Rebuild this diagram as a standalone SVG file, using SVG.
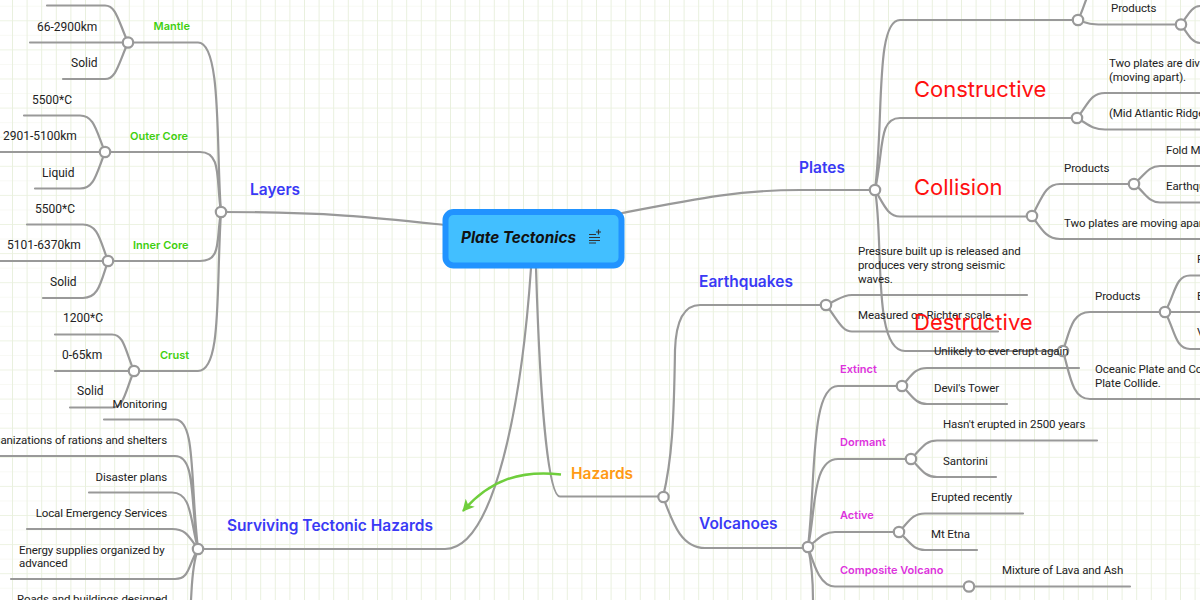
<svg xmlns="http://www.w3.org/2000/svg" width="1200" height="600" viewBox="0 0 1200 600">
<style>
text{font-family:"Roboto","Noto Sans","Liberation Sans",sans-serif;font-size:11.500px;letter-spacing:-.1px;fill:#222}
#layers text{font-size:12px;letter-spacing:0}
.l{fill:none;stroke:#999;stroke-width:2.200;stroke-linecap:round}
.n{fill:#fff;stroke:#999;stroke-width:2.200}
#layers .b,.b{fill:#3a3af5;font-family:"Inter","Noto Sans",sans-serif;font-weight:600;font-size:15.500px;letter-spacing:0}
#layers .g{fill:#3fcf0f;font-family:"Inter","Noto Sans",sans-serif;font-weight:600;font-size:11px;letter-spacing:0}
.m{fill:#dd33dd;font-family:"Inter","Noto Sans",sans-serif;font-weight:600;font-size:11px;letter-spacing:0}
.r{fill:#ff1010;font-family:"Inter","Noto Sans",sans-serif;font-size:22px;letter-spacing:0}
.e{text-anchor:end}
</style>
<defs>
<pattern id="gv" width="14.6" height="600" patternUnits="userSpaceOnUse" x="12"><path d="M.5 0V600" stroke="#e9f0de" stroke-width="1"/></pattern>
<pattern id="gh" width="1200" height="29.100" patternUnits="userSpaceOnUse" y="20.300"><path d="M0 .5H1200" stroke="#edf3e3" stroke-width="1"/><path d="M0 15H1200" stroke="#f8f9f4" stroke-width="1"/></pattern>
<marker id="ah" markerWidth="14" markerHeight="14" refX="11" refY="6" orient="auto" markerUnits="userSpaceOnUse"><path d="M0 0L12 6L0 12L3 6Z" fill="#6fce3c"/></marker>
</defs>
<rect width="1200" height="600" fill="#fff"/>
<rect width="1200" height="600" fill="url(#gh)"/>
<rect width="1200" height="600" fill="url(#gv)"/>
<g id="connectors">
<path class="l" d="M221 212C330 212 380 218 445 225"/>
<path class="l" d="M221 212C216 150 222 42.500 198 42.500H128"/>
<path class="l" d="M221 212C216 180 222 152 200 152H105"/>
<path class="l" d="M221 212C216 240 222 261 200 261H108"/>
<path class="l" d="M221 212C216 290 222 371 198 371H134"/>
<path class="l" d="M128 42.500C118 20 116 5.500 105 5.500H47M128 42.500H30M128 42.500C118 65 116 79 105 79H63"/>
<path class="l" d="M105 152C96 130 94 115.500 80 115.500H24M105 152H0M105 152C96 175 94 188.500 80 188.500H35"/>
<path class="l" d="M108 261C100 240 98 224.500 83 224.500H27M108 261H0M108 261C100 285 98 298 83 298H43"/>
<path class="l" d="M134 371C125 350 124 334.500 112 334.500H55M134 371H55M134 371C125 392 124 407.500 112 407.500H70"/>
<path class="l" d="M198 549C190 480 196 419.500 175 419.500H104M198 549C190 500 196 456 175 456H0M198 549C190 520 192 492.500 172 492.500H89M198 549C188 535 185 529 172 529H27M198 549C188 565 190 579 175 579H11M198 549C192 565 192 585 191 600"/>
<path class="l" d="M198 549H445C495 549 522 400 531 268"/>
<path class="l" d="M536 268C540 400 548 496.500 560 496.500H663"/>
<path class="l" d="M663 497C672 460 674 420 675 350C676 320 685 305 700 305H826"/>
<path class="l" d="M663 497C672 520 680 548 705 548H808"/>
<path class="l" d="M826 305C838 300 842 295 852 295H1027M826 305C838 320 842 331.500 852 331.500H998"/>
<path class="l" d="M808 547C816 480 810 386 838 386H902"/>
<path class="l" d="M808 547C816 510 812 459 838 459H911"/>
<path class="l" d="M808 547C818 540 822 532 835 532H899"/>
<path class="l" d="M808 547C814 565 820 586.500 835 586.500H969H1130"/>
<path class="l" d="M808 547C812 565 813 585 813 600"/>
<path class="l" d="M902 386C912 375 915 368 927 368H1079M902 386C912 395 915 404 927 404H1007"/>
<path class="l" d="M911 459C922 448 925 440.500 937 440.500H1097M911 459C922 470 925 477 937 477H996"/>
<path class="l" d="M899 532C910 520 913 513.500 925 513.500H1023M899 532C910 542 913 550 925 550H977"/>
<path class="l" d="M622 213C700 198 740 190 800 190H875"/>
<path class="l" d="M875 190C884 120 875 20 900 20H1078"/>
<path class="l" d="M875 190C884 150 878 118 900 118H1077"/>
<path class="l" d="M875 190C884 205 888 216.500 900 216.500H1032"/>
<path class="l" d="M875 190C884 240 872 351 905 351H1063"/>
<path class="l" d="M1078 20C1082 12 1084 5 1086 0M1078 20C1088 24 1092 24.500 1102 24.500H1181M1181 24.500C1188 15 1192 6 1200 6M1181 24.500C1188 34 1192 43 1200 43"/>
<path class="l" d="M1077 118C1088 105 1090 93 1105 93H1200M1077 118C1088 124 1092 129.500 1105 129.500H1200"/>
<path class="l" d="M1032 216C1042 198 1045 184 1060 184H1134M1032 216C1042 230 1047 239 1060 239H1200"/>
<path class="l" d="M1134 184C1145 175 1148 166 1160 166H1200M1134 184C1145 192 1148 202.500 1160 202.500H1200"/>
<path class="l" d="M1063 351C1070 330 1072 312 1090 312H1165M1063 351C1070 375 1072 399 1090 399H1200"/>
<path class="l" d="M1165 312C1175 295 1175 275.500 1190 275.500H1200M1165 312H1200M1165 312C1175 330 1175 349 1190 349H1200"/>
<path d="M561 474.500C520 470 490 480 463 511" fill="none" stroke="#6fce3c" stroke-width="2.300" marker-end="url(#ah)"/>
</g>
<g id="root"><rect x="445.500" y="212" width="176" height="53.500" rx="8" fill="#42bfff" stroke="#2193ff" stroke-width="6"/>
<text x="461" y="243" style="font-family:Inter,'Noto Sans',sans-serif;font-size:15.300px;letter-spacing:0;font-weight:700;font-style:italic;fill:#111">Plate Tectonics</text>
<path d="M589 234.500h7M589 237.500h11M589 240.500h11M589 243h7" stroke="#333" stroke-width="1.200" fill="none"/><path d="M596 232h5M598.500 229.500v5" stroke="#333" stroke-width="1.200" fill="none"/></g>
<g id="dots">
<circle class="n" cx="221" cy="212" r="5.200"/><circle class="n" cx="128" cy="42.500" r="5.200"/><circle class="n" cx="105" cy="152" r="5.200"/><circle class="n" cx="108" cy="261" r="5.200"/><circle class="n" cx="134" cy="371" r="5.200"/><circle class="n" cx="198" cy="549" r="5.200"/><circle class="n" cx="663.500" cy="497" r="5.200"/><circle class="n" cx="826" cy="305" r="5.200"/><circle class="n" cx="808" cy="547" r="5.200"/><circle class="n" cx="902" cy="386" r="5.200"/><circle class="n" cx="911" cy="459" r="5.200"/><circle class="n" cx="899" cy="532" r="5.200"/><circle class="n" cx="969" cy="586.500" r="5.200"/><circle class="n" cx="875" cy="190" r="5.200"/><circle class="n" cx="1078" cy="20" r="5.200"/><circle class="n" cx="1181" cy="24.500" r="5.200"/><circle class="n" cx="1077" cy="118" r="5.200"/><circle class="n" cx="1032" cy="216" r="5.200"/><circle class="n" cx="1134" cy="184" r="5.200"/><circle class="n" cx="1063" cy="351" r="5.200"/><circle class="n" cx="1165" cy="312" r="5.200"/>
</g>
<g id="layers"><text class="b" x="250" y="195">Layers</text>
<text class="g" x="153.500" y="30">Mantle</text><text class="g" x="130" y="139.500">Outer Core</text><text class="g" x="133" y="248.500">Inner Core</text><text class="g" x="160" y="358.500">Crust</text>
<text x="37" y="31">66-2900km</text><text x="71" y="67">Solid</text><text x="32" y="104">5500*C</text><text x="3" y="140">2901-5100km</text><text x="42" y="177">Liquid</text><text x="35" y="213">5500*C</text><text x="7" y="249">5101-6370km</text><text x="50" y="286">Solid</text><text x="63" y="322">1200*C</text><text x="62" y="359">0-65km</text><text x="77" y="395">Solid</text></g>
<g id="surviving"><text class="b" x="227" y="531">Surviving Tectonic Hazards</text>
<text class="e" x="167" y="408">Monitoring</text><text class="e" x="167" y="444">Organizations of rations and shelters</text><text class="e" x="167" y="481">Disaster plans</text><text class="e" x="167" y="517">Local Emergency Services</text><text x="19" y="554">Energy supplies organized by</text><text x="19" y="567">advanced</text><text x="17" y="603">Roads and buildings designed</text></g>
<g id="hazards"><text x="571" y="479" style="font-family:Inter,'Noto Sans',sans-serif;font-size:15.500px;letter-spacing:0;font-weight:600;fill:#ff9a14">Hazards</text></g>
<g id="earthquakes"><text class="b" x="699" y="287">Earthquakes</text><text x="858" y="255">Pressure built up is released and</text><text x="858" y="269">produces very strong seismic</text><text x="858" y="283">waves.</text><text x="858" y="319">Measured on Richter scale</text></g>
<g id="volcanoes"><text class="b" x="699" y="529">Volcanoes</text>
<text class="m" x="840" y="373">Extinct</text><text class="m" x="840" y="446">Dormant</text><text class="m" x="840" y="519">Active</text><text class="m" x="840" y="574">Composite Volcano</text>
<text x="934" y="355">Unlikely to ever erupt again</text><text x="934" y="392">Devil's Tower</text><text x="943" y="428">Hasn't erupted in 2500 years</text><text x="943" y="465">Santorini</text><text x="931" y="501">Erupted recently</text><text x="931" y="538">Mt Etna</text><text x="1002" y="574">Mixture of Lava and Ash</text></g>
<g id="plates"><text class="b" x="799" y="173">Plates</text>
<text class="r" x="914" y="97">Constructive</text><text class="r" x="914" y="195">Collision</text><text class="r" x="914" y="330">Destructive</text>
<text x="1111" y="12">Products</text><text x="1109" y="67">Two plates are diverging</text><text x="1109" y="81">(moving apart).</text><text x="1109" y="117">(Mid Atlantic Ridge)</text><text x="1166" y="154">Fold Mountains</text><text x="1166" y="190">Earthquakes</text><text x="1064" y="172">Products</text><text x="1064" y="227">Two plates are moving apart</text><text x="1095" y="300">Products</text><text x="1095" y="373">Oceanic Plate and Continental</text><text x="1095" y="387">Plate Collide.</text><text x="1197" y="263">F</text><text x="1197" y="300">E</text><text x="1197" y="336">V</text></g>
</svg>
